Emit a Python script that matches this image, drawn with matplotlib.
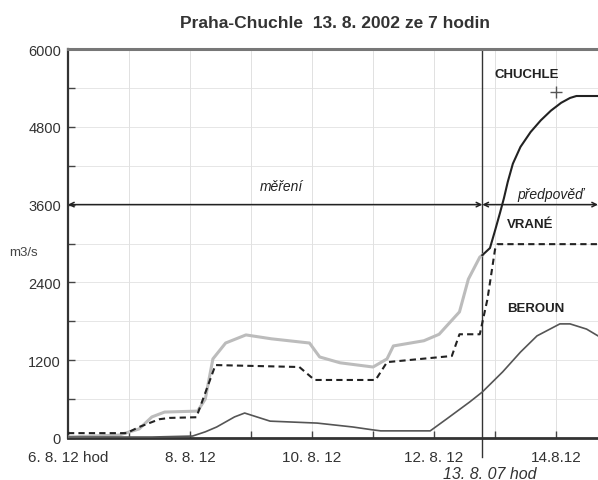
import matplotlib
matplotlib.use("Agg")
import matplotlib.pyplot as plt

plt.rcParams["font.family"] = ["Liberation Sans", "DejaVu Sans"]

# hodiny od 6. 8. 12:00, prutok v m3/s
now_h = 163  # 13. 8. 07 hod

chuchle_h = [0, 20, 28, 33, 38, 51, 54, 57, 62, 70, 80, 95, 99, 107, 120,
             125.5, 128, 140, 146, 149, 154, 157.5, 162, 163]
chuchle_q = [15, 45, 140, 325, 400, 415, 600, 1220, 1465, 1590, 1530, 1465,
             1250, 1160, 1095, 1220, 1420, 1500, 1600, 1730, 1945, 2450, 2790, 2820]

chuchle_fc_h = [163, 166, 168, 170, 171.5, 173, 175, 178, 182, 186, 190, 194,
                197.5, 200, 208.5]
chuchle_fc_q = [2820, 2930, 3200, 3480, 3700, 3950, 4230, 4490, 4720, 4900,
                5050, 5170, 5245, 5275, 5275]

vrane_h = [0, 23, 28, 36, 40, 50.5, 58, 91, 97, 121, 125.5, 151, 154, 162,
           165, 168, 169, 208.5]
vrane_q = [75, 75, 170, 290, 310, 320, 1125, 1095, 895, 895, 1170, 1265, 1600,
           1600, 2140, 2910, 2990, 2990]

beroun_h = [0, 33, 49, 54, 58.5, 65.5, 69.5, 79.5, 98, 112, 120, 123, 142.5,
            149, 158, 163, 171, 178, 184.5, 193.5, 197.5, 204, 208.5]
beroun_q = [15, 15, 30, 95, 170, 325, 385, 260, 230, 170, 125, 110, 110, 295,
            555, 710, 1020, 1325, 1575, 1760, 1760, 1680, 1575]

peak_h, peak_q = 192, 5340

xtick_pos = [0, 48, 96, 144, 192]
xtick_labels = ["6. 8. 12 hod", "8. 8. 12", "10. 8. 12", "12. 8. 12", "14.8.12"]
xminor_pos = [24, 72, 120, 168]
yticks = [0, 1200, 2400, 3600, 4800, 6000]

fig = plt.figure(figsize=(5.98, 4.81), dpi=100)
ax = fig.add_axes([68 / 598, 1 - 439 / 481, 1 - 68 / 598, (439 - 50) / 481])

ax.set_xlim(0, 208.5)
ax.set_ylim(0, 6000)

# mrizka
ax.set_xticks(xtick_pos)
ax.set_xticklabels(xtick_labels, fontsize=11)
ax.set_xticks(xminor_pos, minor=True)
ax.set_yticks(yticks)
ax.set_yticklabels([str(v) for v in yticks], fontsize=10.5)
ax.set_yticks(range(600, 6000, 1200), minor=True)
for h in xtick_pos[1:] + xminor_pos:
    ax.axvline(h, color="#dcdcdc", lw=0.6, zorder=0)
for v in range(600, 6000, 600):
    ax.axhline(v, color="#e2e2e2", lw=0.6, zorder=0)
ax.tick_params(which="both", direction="in", length=5, width=1, color="#444",
               labelcolor="#333")
ax.tick_params(axis="y", pad=5)
ax.tick_params(axis="x", pad=9)

ax.spines["right"].set_visible(False)
ax.spines["top"].set_color("#777")
ax.spines["top"].set_linewidth(2.2)
ax.spines["left"].set_color("#333")
ax.spines["left"].set_linewidth(1.6)
ax.spines["bottom"].set_color("#333")
ax.spines["bottom"].set_linewidth(2.0)

# prubehy
ax.plot(chuchle_h, chuchle_q, color="#bcbcbc", lw=2.2, zorder=3)
ax.plot(chuchle_fc_h, chuchle_fc_q, color="#222", lw=1.5, zorder=4)
ax.plot(vrane_h, vrane_q, color="#222", lw=1.5, ls=(0, (3, 2)), zorder=4)
ax.plot(beroun_h, beroun_q, color="#555", lw=1.2, zorder=3)
ax.plot(peak_h, peak_q, marker="+", color="#555", ms=9, mew=1.0, zorder=5)

# okamzik predpovedi
ax.plot([now_h, now_h], [-290, 6000], color="#333", lw=1.0, clip_on=False, zorder=2)

# mereni / predpoved
arrow = dict(arrowstyle="<->", color="#222", lw=1.1, shrinkA=0, shrinkB=0,
             mutation_scale=8)
ax.annotate("", xy=(0, 3600), xytext=(now_h, 3600), arrowprops=arrow)
ax.annotate("", xy=(now_h, 3600), xytext=(208.5, 3600), arrowprops=arrow,
            annotation_clip=False)
ax.text(84, 3880, "měření", fontsize=10, style="italic", ha="center", va="center",
        color="#222")
ax.text(190, 3760, "předpověď", fontsize=10, style="italic", ha="center", va="center",
        color="#222")

ax.text(180.5, 5610, "CHUCHLE", fontsize=9.5, weight="bold", ha="center", va="center",
        color="#222")
ax.text(182, 3300, "VRANÉ", fontsize=9.5, weight="bold", ha="center", va="center",
        color="#222")
ax.text(184, 2000, "BEROUN", fontsize=9.5, weight="bold", ha="center", va="center",
        color="#222")

fig.text(23 / 598, 1 - 253 / 481, "m3/s", fontsize=9.5, ha="center", va="center",
         color="#444")
fig.text(490 / 598, 1 - 475 / 481, "13. 8. 07 hod", fontsize=11.5, style="italic",
         ha="center", va="center", color="#333")
fig.text(335 / 598, 1 - 23 / 481, "Praha-Chuchle  13. 8. 2002 ze 7 hodin",
         fontsize=12.5, weight="bold", ha="center", va="center", color="#333")

fig.savefig("out.png", dpi=100)
